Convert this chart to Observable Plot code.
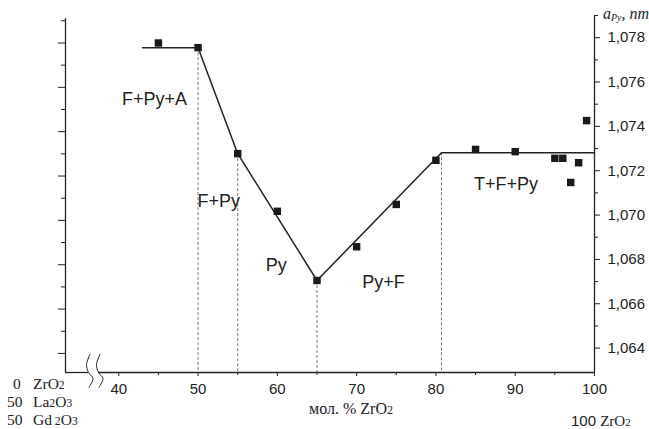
<!DOCTYPE html>
<html>
<head>
<meta charset="utf-8">
<script src="https://cdn.jsdelivr.net/npm/d3@7"></script>
<script src="https://cdn.jsdelivr.net/npm/@observablehq/plot@0.6"></script>
<style>
  html, body { margin: 0; padding: 0; background: #fff; }
  #chart svg { display: block; }
</style>
</head>
<body>
<div id="chart"></div>
<script>
// ---- data ----
const compZrO2 = [45, 50, 55, 60, 65, 70, 75, 80, 85, 90, 95, 96, 97, 98, 99];
const aPy = [1.07776, 1.07755, 1.07277, 1.07017, 1.06705, 1.06857, 1.07048, 1.07247,
             1.07296, 1.07286, 1.07256, 1.07256, 1.07147, 1.07236, 1.07426];

const fitX = [43, 50, 55, 65, 80.7, 100];
const fitY = [1.07755, 1.07755, 1.07277, 1.06705, 1.07281, 1.07281];

const boundaryX = [50, 55, 65, 80.7];
const boundaryY = [1.07755, 1.07277, 1.06705, 1.07281];

const regionLabels = ["F+Py+A", "F+Py", "Py", "Py+F", "T+F+Py"];
const regionX = [44.5, 52.6, 59.85, 73.4, 88.85];
const regionY = [1.07522, 1.07064, 1.06776, 1.06698, 1.07138];

const xDomain = [33.28, 100];
const yDomain = [1.0629, 1.079];
const xMajor = [40, 50, 60, 70, 80, 90, 100];
const xMinor = [45, 55, 65, 75, 85, 95];
const yMajor = [1.064, 1.066, 1.068, 1.070, 1.072, 1.074, 1.076, 1.078];
const yMinor = [1.065, 1.067, 1.069, 1.071, 1.073, 1.075, 1.077, 1.079];
const leftMajor = [1.06376, 1.06576, 1.06776, 1.06976, 1.07176, 1.07376, 1.07576, 1.07776];
const leftMinor = [1.06476, 1.06676, 1.06876, 1.07076, 1.07276, 1.07476, 1.07676, 1.07876];
const leftAxisTop = 1.07885;

// axis break glyph in data units
const breakX = [36.37, 35.93, 36.18, 36.75, 36.24];
const breakY = [1.06372, 1.06326, 1.06290, 1.06263, 1.06223];
const breakShift = [0, 1.26];
const axisGap = [36.18, 37.44];

// ---- build tables ----
const points = compZrO2.map((x, i) => ({x, y: aPy[i]}));
const fit = fitX.map((x, i) => ({x, y: fitY[i]}));
const bounds = boundaryX.map((x, i) => ({x, y: boundaryY[i]}));
const regions = regionLabels.map((t, i) => ({t, x: regionX[i], y: regionY[i]}));
const breaks = breakShift.flatMap((s, g) => breakX.map((x, i) => ({g, x: x + s, y: breakY[i]})));

const fmt = d => d3.format(".3f")(d).replace(".", ",");
const ink = "#222";

const svg = Plot.plot({
  width: 649,
  height: 429,
  marginLeft: 65,
  marginRight: 55,
  marginTop: 15,
  marginBottom: 57,
  style: {fontFamily: "'Liberation Sans', Arial, sans-serif", fontSize: "15px", color: ink, background: "#fff"},
  x: {domain: xDomain},
  y: {domain: yDomain},
  marks: [
    Plot.ruleX(bounds, {x: "x", y1: "y", y2: yDomain[0], stroke: "#555", strokeWidth: 0.8, strokeDasharray: "3,2"}),
    Plot.ruleY([yDomain[0]], {x1: xDomain[0], x2: axisGap[0], stroke: ink, strokeWidth: 1.3}),
    Plot.ruleY([yDomain[0]], {x1: axisGap[1], x2: xDomain[1], stroke: ink, strokeWidth: 1.3}),
    Plot.ruleX([xDomain[0]], {y1: yDomain[0], y2: leftAxisTop, stroke: ink, strokeWidth: 1.3}),
    Plot.ruleX([xDomain[1]], {y1: yDomain[0], y2: yDomain[1], stroke: ink, strokeWidth: 1.3}),
    Plot.line(breaks, {x: "x", y: "y", z: "g", curve: "catmull-rom", stroke: ink, strokeWidth: 1}),
    Plot.axisX({ticks: xMajor, tickSize: 4, tickPadding: 7, tickFormat: d => String(d), label: null, stroke: ink}),
    Plot.axisX({ticks: xMinor, tickSize: 3, tickFormat: () => "", label: null, stroke: ink}),
    Plot.axisY({anchor: "right", ticks: yMajor, tickSize: 5, tickPadding: 8, tickFormat: fmt, label: null, stroke: ink}),
    Plot.axisY({anchor: "right", ticks: yMinor, tickSize: 3, tickFormat: () => "", label: null, stroke: ink}),
    Plot.axisY({anchor: "left", ticks: leftMajor, tickSize: 7, tickFormat: () => "", label: null, stroke: ink}),
    Plot.axisY({anchor: "left", ticks: leftMinor, tickSize: 4, tickFormat: () => "", label: null, stroke: ink}),
    Plot.line(fit, {x: "x", y: "y", stroke: ink, strokeWidth: 1.5}),
    Plot.dot(points, {x: "x", y: "y", symbol: "square", r: 4.2, fill: "#1a1a1a", stroke: "none"}),
    Plot.text(regions, {x: "x", y: "y", text: "t", fontSize: 18, fill: ink})
  ]
});

// ---- extra text with subscripts ----
const root = d3.select(svg);
const xs = svg.scale("x");
function rich(x, y, parts, opts = {}) {
  const t = root.append("text")
    .attr("x", x).attr("y", y)
    .attr("fill", ink)
    .attr("font-family", opts.family || "'Liberation Serif', 'Times New Roman', serif")
    .attr("font-size", opts.size || 15.5)
    .attr("text-anchor", opts.anchor || "start");
  if (opts.italic) t.attr("font-style", "italic");
  parts.forEach(p => {
    const s = t.append("tspan").text(p.t);
    if (p.x != null) s.attr("x", p.x);
    if (p.sub) s.attr("font-size", p.subSize || "0.75em");
    if (p.dy) s.attr("dy", p.dy);
    if (p.family) s.attr("font-family", p.family);
  });
  return t;
}
rich(13, 389, [{t: "0"}, {t: "ZrO", x: 33}, {t: "2", sub: true}]);
rich(7, 407, [{t: "50"}, {t: "La", x: 33}, {t: "2", sub: true}, {t: "O"}, {t: "3", sub: true}]);
rich(7, 425, [{t: "50"}, {t: "Gd", x: 33}, {t: " 2", sub: true}, {t: "O"}, {t: "3", sub: true}]);
rich(351, 414, [{t: "мол. % ZrO"}, {t: "2", sub: true}], {anchor: "middle", size: 16});
rich(xs.apply(100) - 23, 426, [{t: "100 ", family: "'Liberation Sans', Arial, sans-serif"}, {t: "ZrO"}, {t: "2", sub: true}], {size: 15});
rich(603, 19, [{t: "a"}, {t: "Py", sub: true, subSize: "0.62em", dy: 2}, {t: ", nm", dy: -2}], {italic: true, size: 16});

document.getElementById("chart").appendChild(svg);
</script>
</body>
</html>
